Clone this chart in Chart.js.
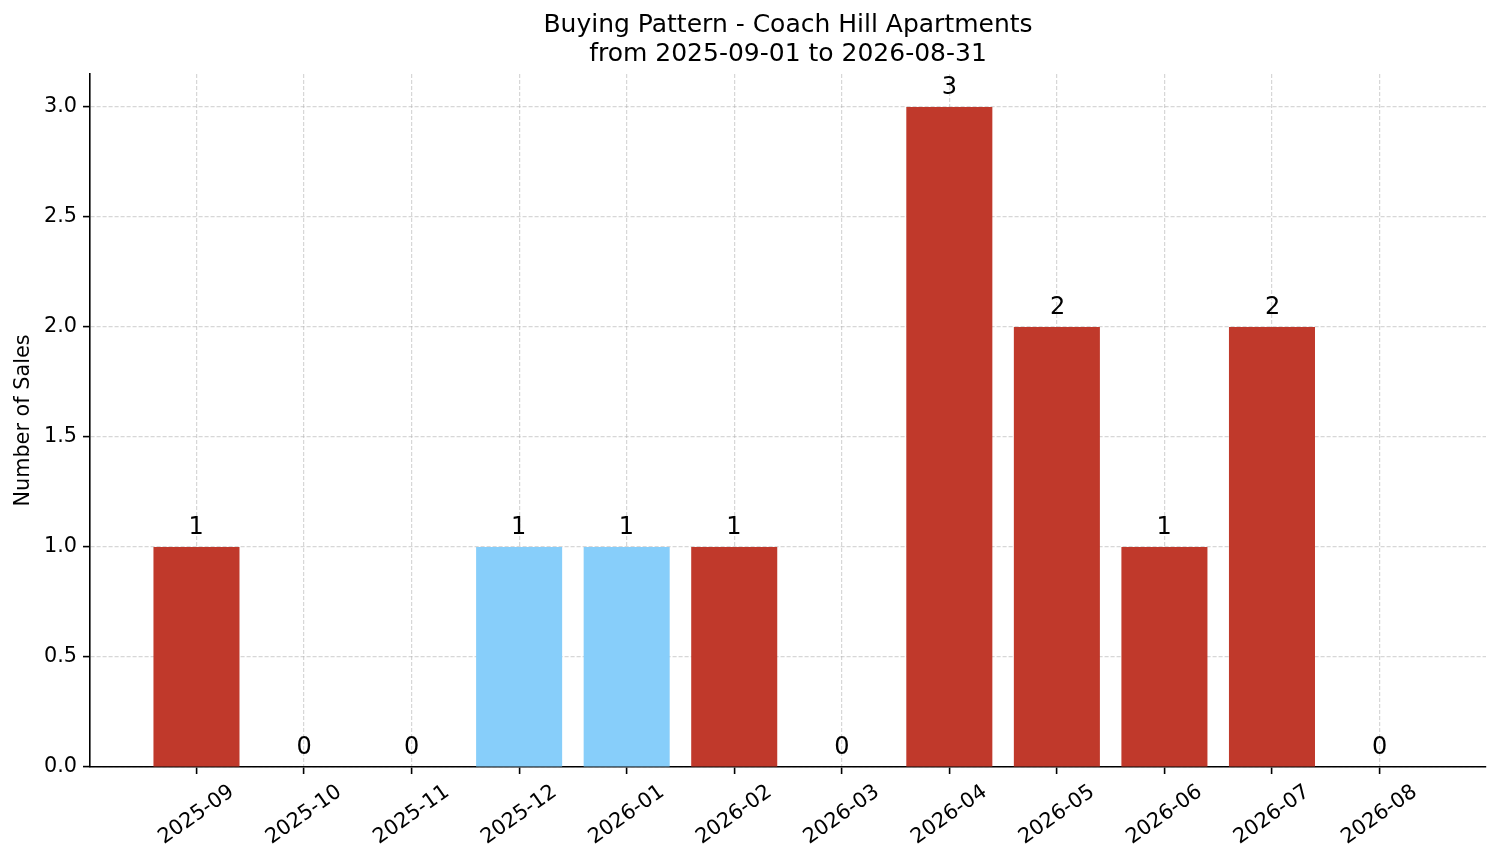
<!DOCTYPE html>
<html>
<head>
<meta charset="utf-8">
<script src="https://cdn.jsdelivr.net/npm/chart.js@4.4.1/dist/chart.umd.min.js"></script>
<style>
  html, body { margin: 0; padding: 0; background: #fff; }
  #wrap { width: 1501px; height: 863px; }
</style>
</head>
<body>
<div id="wrap"><canvas id="c" width="1501" height="863"></canvas></div>
<script>
// ---- data ----
const months = ['2025-09','2025-10','2025-11','2025-12','2026-01','2026-02','2026-03','2026-04','2026-05','2026-06','2026-07','2026-08'];
const sales = [1, 0, 0, 1, 1, 1, 0, 3, 2, 1, 2, 0];
const highlighted = ['2025-12', '2026-01'];
const yTicks = [0, 0.5, 1.0, 1.5, 2.0, 2.5, 3.0];
const titleLines = ['Buying Pattern - Coach Hill Apartments', 'from 2025-09-01 to 2026-08-31'];
const yTitle = 'Number of Sales';

const RED = '#c0392b';
const BLUE = '#87cefa';
const FONT = "'DejaVu Sans', sans-serif";

Chart.defaults.font.family = FONT;
Chart.defaults.color = '#000';

const points = months.map((m, i) => ({ x: i, y: sales[i] }));
const colors = months.map(m => highlighted.includes(m) ? BLUE : RED);

const gridColor = 'rgba(176,176,176,0.5)';

// centre the title over the plot area (as matplotlib does)
const titleOverPlot = {
  id: 'titleOverPlot',
  afterLayout(chart) {
    const t = chart.titleBlock;
    if (t) {
      t.left = chart.chartArea.left;
      t.right = chart.chartArea.right;
      t.width = t.right - t.left;
    }
  }
};

const valueLabels = {
  id: 'valueLabels',
  afterDraw(chart) {
    const { ctx, scales: { x, y } } = chart;
    ctx.save();
    ctx.fillStyle = '#000';
    ctx.font = "24px " + FONT;
    ctx.textAlign = 'left';
    ctx.textBaseline = 'alphabetic';
    sales.forEach((v, i) => {
      const s = String(v);
      const m = ctx.measureText(s);
      const inkW = m.actualBoundingBoxLeft + m.actualBoundingBoxRight;
      const px = x.getPixelForValue(i) - inkW / 2 + m.actualBoundingBoxLeft;
      ctx.fillText(s, px, y.getPixelForValue(v) - 13);
    });
    ctx.restore();
  }
};

const xLabels = {
  id: 'xLabels',
  afterDraw(chart) {
    const { ctx, scales: { x } } = chart;
    ctx.save();
    ctx.fillStyle = '#000';
    ctx.font = "20.8px " + FONT;
    ctx.textAlign = 'center';
    ctx.textBaseline = 'middle';
    x.ticks.forEach(t => {
      const label = months[t.value];
      if (label === undefined) return;
      ctx.save();
      ctx.translate(x.getPixelForValue(t.value), x.top + 48);
      ctx.rotate(-35 * Math.PI / 180);
      ctx.fillText(label, 0, 0);
      ctx.restore();
    });
    ctx.restore();
  }
};

new Chart(document.getElementById('c'), {
  type: 'bar',
  data: {
    datasets: [{
      data: points,
      backgroundColor: colors,
      borderWidth: 0,
      categoryPercentage: 0.8,
      barPercentage: 1.0
    }]
  },
  options: {
    responsive: false,
    devicePixelRatio: 1,
    animation: false,
    layout: { padding: { left: 0, right: 15, top: 0, bottom: 0 } },
    plugins: {
      legend: { display: false },
      tooltip: { enabled: false },
      title: {
        display: true,
        text: titleLines,
        color: '#000',
        font: { size: 25, weight: 'normal', lineHeight: 1.15 },
        padding: { top: 11, bottom: 5.5 }
      }
    },
    scales: {
      x: {
        type: 'linear',
        min: -0.99,
        max: 11.99,
        offset: false,
        z: 1,
        ticks: { stepSize: 1, display: false },
        afterBuildTicks: s => { s.ticks = s.ticks.filter(t => Number.isInteger(t.value) && t.value >= 0 && t.value < months.length); },
        afterFit: s => { s.height = 96; },
        grid: { offset: false, color: gridColor, lineWidth: 1.2, drawTicks: true, tickLength: 7, tickColor: '#000', tickWidth: 1.6 },
        border: { display: true, color: '#000', width: 1.6, dash: [4, 2] }
      },
      y: {
        min: 0,
        max: 3.15,
        z: 1,
        ticks: {
          stepSize: 0.5,
          padding: 6,
          font: { size: 20.8 },
          color: '#000',
          callback: v => Number(v).toFixed(1)
        },
        afterBuildTicks: s => { s.ticks = yTicks.map(v => ({ value: v })); },
        afterFit: s => { s.width = 90; },
        title: {
          display: true,
          text: yTitle,
          color: '#000',
          font: { size: 20.8, lineHeight: 1.2 },
          padding: { top: 11.3, bottom: 0 }
        },
        grid: { color: gridColor, lineWidth: 1.2, drawTicks: true, tickLength: 7, tickColor: '#000', tickWidth: 1.6 },
        border: { display: true, color: '#000', width: 1.6, dash: [4, 2] }
      }
    }
  },
  plugins: [titleOverPlot, valueLabels, xLabels]
});
</script>
</body>
</html>
